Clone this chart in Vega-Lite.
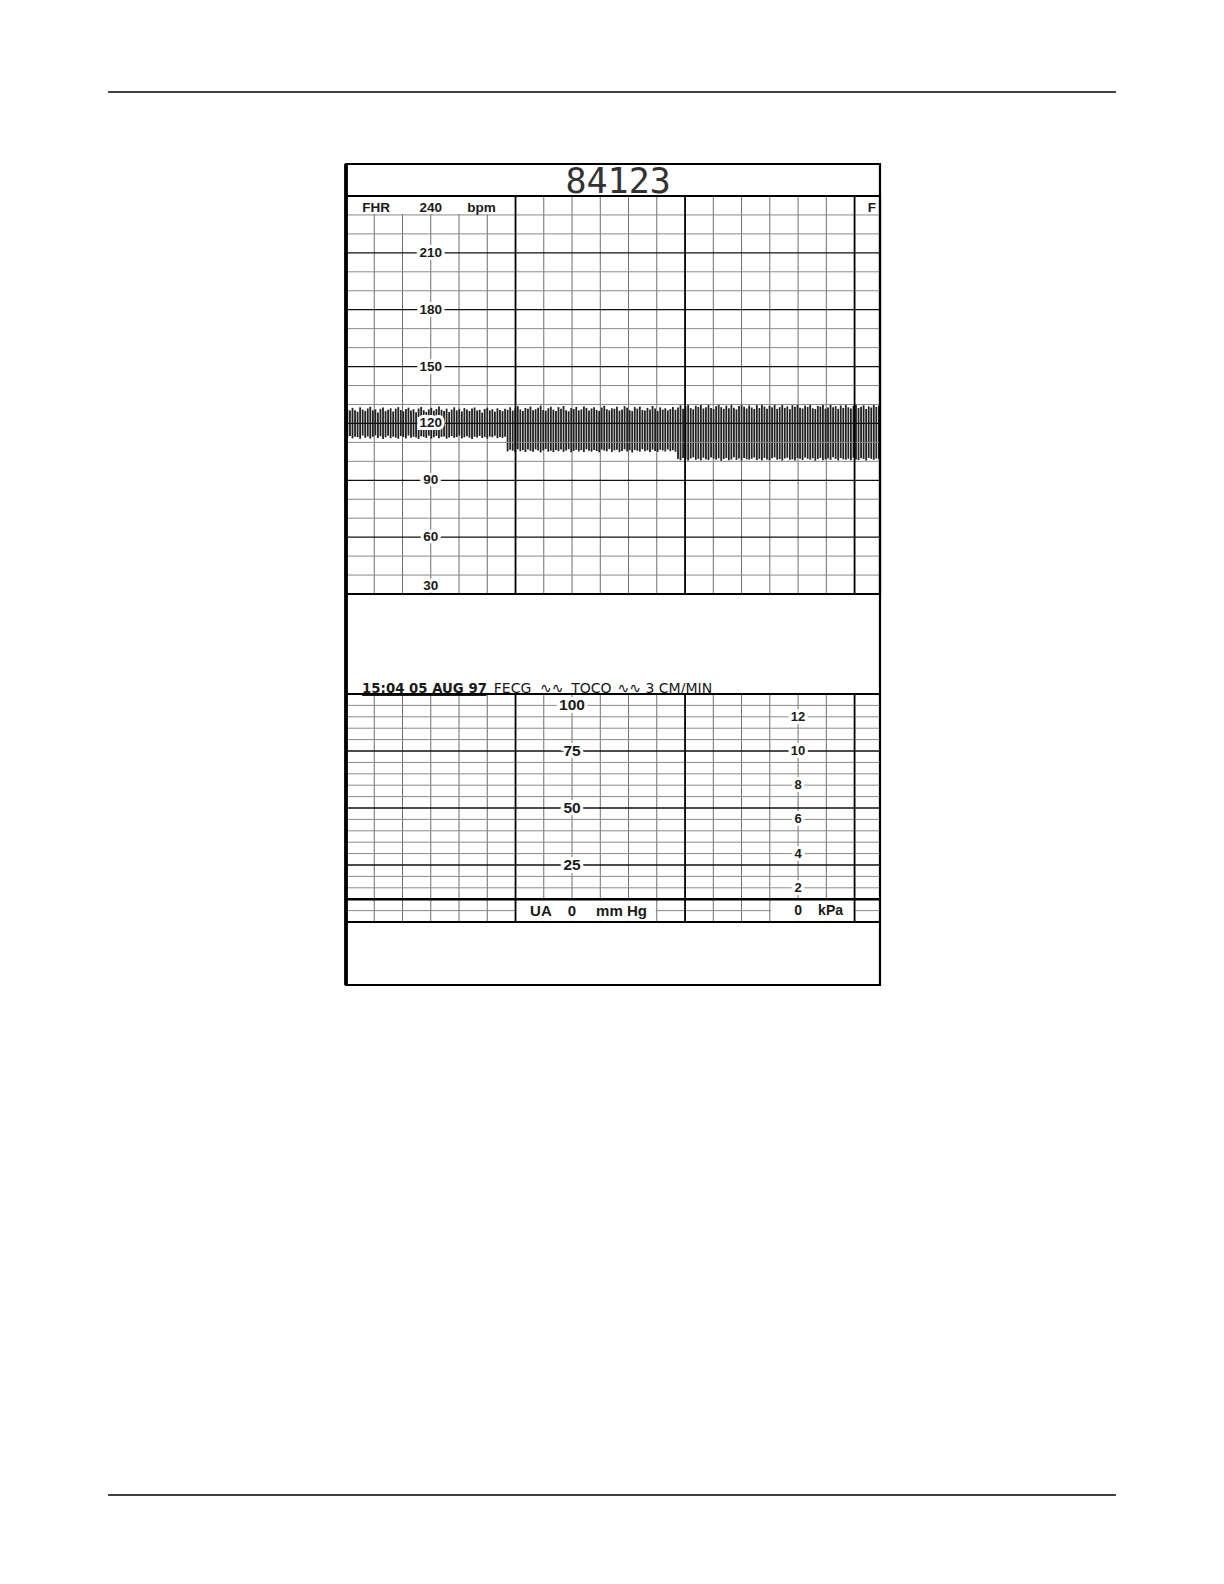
{
"$schema":"https://vega.github.io/schema/vega-lite/v6.json",
"width":1224,"height":1584,"padding":0,"autosize":{"type":"none"},
"background":"#ffffff",
"config":{"view":{"stroke":null},"text":{"font":"Liberation Sans"}},
"resolve":{"scale":{"x":"independent","y":"independent"}},
"datasets":{
"vl":[{"t":1},{"t":2},{"t":3},{"t":4},{"t":5},{"t":6},{"t":7},{"t":8},{"t":9},{"t":10},{"t":11},{"t":12},{"t":13},{"t":14},{"t":15},{"t":16},{"t":17},{"t":18}],
"fh":[{"v":40},{"v":50},{"v":60},{"v":70},{"v":80},{"v":90},{"v":100},{"v":110},{"v":120},{"v":130},{"v":140},{"v":150},{"v":160},{"v":170},{"v":180},{"v":190},{"v":200},{"v":210},{"v":220},{"v":230}],
"uh":[{"v":5},{"v":10},{"v":15},{"v":20},{"v":25},{"v":30},{"v":35},{"v":40},{"v":45},{"v":50},{"v":55},{"v":60},{"v":65},{"v":70},{"v":75},{"v":80},{"v":85},{"v":90},{"v":95}],
"fl":[{"txt":"210","v":210},{"txt":"180","v":180},{"txt":"150","v":150},{"txt":"120","v":120},{"txt":"90","v":90},{"txt":"60","v":60}],
"ul":[{"txt":"75","v":75},{"txt":"50","v":50},{"txt":"25","v":25}],
"kl":[{"txt":"12","kpa":12},{"txt":"10","kpa":10},{"txt":"8","kpa":8},{"txt":"6","kpa":6},{"txt":"4","kpa":4},{"txt":"2","kpa":2}],
"trace":[
{"t":0.05,"lo":112.6,"hi":127.5},{"t":0.14,"lo":113.4,"hi":126.8},{"t":0.23,"lo":112.1,"hi":128.2},{"t":0.32,"lo":113.0,"hi":127.0},{"t":0.41,"lo":112.8,"hi":126.2},{"t":0.50,"lo":111.9,"hi":128.5},{"t":0.59,"lo":113.6,"hi":127.3},{"t":0.68,"lo":112.4,"hi":126.6},{"t":0.77,"lo":113.1,"hi":127.9},{"t":0.86,"lo":112.0,"hi":128.8},
{"t":0.95,"lo":112.9,"hi":126.9},{"t":1.04,"lo":113.7,"hi":127.4},{"t":1.13,"lo":112.3,"hi":125.8},{"t":1.22,"lo":113.2,"hi":127.7},{"t":1.31,"lo":111.8,"hi":128.4},{"t":1.40,"lo":112.7,"hi":126.5},{"t":1.49,"lo":113.5,"hi":127.2},{"t":1.58,"lo":112.2,"hi":128.0},{"t":1.67,"lo":113.0,"hi":126.3},{"t":1.76,"lo":112.5,"hi":127.8},
{"t":1.85,"lo":111.9,"hi":128.6},{"t":1.94,"lo":113.3,"hi":127.1},{"t":2.03,"lo":112.8,"hi":126.4},{"t":2.12,"lo":112.1,"hi":127.6},{"t":2.21,"lo":113.6,"hi":128.3},{"t":2.30,"lo":112.4,"hi":126.8},{"t":2.39,"lo":113.0,"hi":127.5},{"t":2.48,"lo":112.6,"hi":125.9},{"t":2.57,"lo":111.8,"hi":127.9},{"t":2.66,"lo":113.2,"hi":128.7},
{"t":2.75,"lo":112.9,"hi":127.0},{"t":2.84,"lo":112.3,"hi":126.1},{"t":2.93,"lo":113.5,"hi":127.4},{"t":3.02,"lo":112.0,"hi":128.2},{"t":3.11,"lo":112.7,"hi":126.7},{"t":3.20,"lo":113.4,"hi":127.6},{"t":3.29,"lo":112.2,"hi":128.9},{"t":3.38,"lo":112.9,"hi":127.2},{"t":3.47,"lo":113.1,"hi":126.5},{"t":3.56,"lo":111.9,"hi":127.8},
{"t":3.65,"lo":112.6,"hi":126.0},{"t":3.74,"lo":113.3,"hi":127.3},{"t":3.83,"lo":112.4,"hi":128.5},{"t":3.92,"lo":112.8,"hi":126.9},{"t":4.01,"lo":113.6,"hi":127.7},{"t":4.10,"lo":112.1,"hi":126.3},{"t":4.19,"lo":112.7,"hi":128.1},{"t":4.28,"lo":113.2,"hi":127.4},{"t":4.37,"lo":112.5,"hi":126.6},{"t":4.46,"lo":111.8,"hi":127.9},
{"t":4.55,"lo":113.0,"hi":128.4},{"t":4.64,"lo":112.6,"hi":126.8},{"t":4.73,"lo":113.4,"hi":127.2},{"t":4.82,"lo":112.3,"hi":125.7},{"t":4.91,"lo":112.9,"hi":127.6},{"t":5.00,"lo":112.0,"hi":128.3},{"t":5.09,"lo":113.1,"hi":126.9},{"t":5.18,"lo":112.7,"hi":127.5},{"t":5.27,"lo":113.5,"hi":126.2},{"t":5.36,"lo":112.2,"hi":128.0},
{"t":5.45,"lo":112.8,"hi":127.1},{"t":5.54,"lo":112.4,"hi":126.5},{"t":5.63,"lo":113.0,"hi":127.7},
{"t":5.72,"lo":105.2,"hi":127.2},{"t":5.81,"lo":106.1,"hi":128.5},{"t":5.90,"lo":105.6,"hi":126.8},{"t":5.99,"lo":104.8,"hi":127.9},{"t":6.08,"lo":106.4,"hi":129.1},{"t":6.17,"lo":105.3,"hi":127.4},{"t":6.26,"lo":105.9,"hi":126.6},{"t":6.35,"lo":104.9,"hi":128.2},{"t":6.44,"lo":106.2,"hi":127.7},{"t":6.53,"lo":105.5,"hi":128.9},
{"t":6.62,"lo":105.0,"hi":126.9},{"t":6.71,"lo":106.3,"hi":127.5},{"t":6.80,"lo":105.7,"hi":128.3},{"t":6.89,"lo":104.7,"hi":129.4},{"t":6.98,"lo":105.8,"hi":127.1},{"t":7.07,"lo":106.5,"hi":126.7},{"t":7.16,"lo":105.1,"hi":128.0},{"t":7.25,"lo":105.6,"hi":128.8},{"t":7.34,"lo":104.9,"hi":127.3},{"t":7.43,"lo":106.0,"hi":126.5},
{"t":7.52,"lo":105.4,"hi":128.6},{"t":7.61,"lo":106.2,"hi":127.8},{"t":7.70,"lo":105.0,"hi":129.2},{"t":7.79,"lo":105.7,"hi":127.0},{"t":7.88,"lo":106.4,"hi":126.4},{"t":7.97,"lo":104.8,"hi":128.1},{"t":8.06,"lo":105.5,"hi":127.6},{"t":8.15,"lo":106.1,"hi":128.7},{"t":8.24,"lo":105.2,"hi":126.9},{"t":8.33,"lo":105.9,"hi":127.4},
{"t":8.42,"lo":104.9,"hi":129.0},{"t":8.51,"lo":106.3,"hi":128.2},{"t":8.60,"lo":105.6,"hi":126.8},{"t":8.69,"lo":105.1,"hi":127.9},{"t":8.78,"lo":106.0,"hi":128.5},{"t":8.87,"lo":105.4,"hi":127.2},{"t":8.96,"lo":104.8,"hi":126.6},{"t":9.05,"lo":106.2,"hi":128.4},{"t":9.14,"lo":105.7,"hi":129.3},{"t":9.23,"lo":105.3,"hi":127.5},
{"t":9.32,"lo":106.5,"hi":126.9},{"t":9.41,"lo":105.0,"hi":128.0},{"t":9.50,"lo":105.8,"hi":127.7},{"t":9.59,"lo":106.1,"hi":128.8},{"t":9.68,"lo":104.9,"hi":126.7},{"t":9.77,"lo":105.5,"hi":127.3},{"t":9.86,"lo":106.3,"hi":129.1},{"t":9.95,"lo":105.2,"hi":128.3},{"t":10.04,"lo":105.9,"hi":127.0},{"t":10.13,"lo":104.7,"hi":126.5},
{"t":10.22,"lo":106.0,"hi":128.6},{"t":10.31,"lo":105.6,"hi":127.8},{"t":10.40,"lo":105.1,"hi":128.9},{"t":10.49,"lo":106.4,"hi":127.1},{"t":10.58,"lo":105.3,"hi":126.8},{"t":10.67,"lo":105.8,"hi":128.2},{"t":10.76,"lo":104.9,"hi":127.4},{"t":10.85,"lo":106.2,"hi":129.2},{"t":10.94,"lo":105.5,"hi":127.9},{"t":11.03,"lo":105.0,"hi":126.6},
{"t":11.12,"lo":106.1,"hi":128.5},{"t":11.21,"lo":105.7,"hi":127.3},{"t":11.30,"lo":105.2,"hi":128.0},{"t":11.39,"lo":106.3,"hi":126.9},{"t":11.48,"lo":105.4,"hi":127.6},{"t":11.57,"lo":105.9,"hi":128.7},{"t":11.66,"lo":105.1,"hi":127.2},
{"t":11.75,"lo":101.2,"hi":128.4},{"t":11.84,"lo":100.6,"hi":129.6},{"t":11.93,"lo":101.8,"hi":127.8},{"t":12.02,"lo":101.0,"hi":128.9},{"t":12.11,"lo":100.4,"hi":130.2},{"t":12.20,"lo":101.5,"hi":128.1},{"t":12.29,"lo":102.1,"hi":127.5},{"t":12.38,"lo":100.8,"hi":129.3},{"t":12.47,"lo":101.3,"hi":128.7},{"t":12.56,"lo":100.5,"hi":130.0},
{"t":12.65,"lo":101.9,"hi":127.9},{"t":12.74,"lo":101.1,"hi":128.5},{"t":12.83,"lo":100.7,"hi":129.8},{"t":12.92,"lo":102.0,"hi":128.2},{"t":13.01,"lo":101.4,"hi":127.6},{"t":13.10,"lo":100.9,"hi":129.1},{"t":13.19,"lo":101.6,"hi":130.3},{"t":13.28,"lo":100.3,"hi":128.6},{"t":13.37,"lo":101.2,"hi":127.7},{"t":13.46,"lo":101.8,"hi":129.4},
{"t":13.55,"lo":100.6,"hi":128.0},{"t":13.64,"lo":101.0,"hi":129.9},{"t":13.73,"lo":102.2,"hi":128.3},{"t":13.82,"lo":100.8,"hi":127.4},{"t":13.91,"lo":101.5,"hi":129.2},{"t":14.00,"lo":100.4,"hi":130.1},{"t":14.09,"lo":101.7,"hi":128.8},{"t":14.18,"lo":101.1,"hi":127.9},{"t":14.27,"lo":100.9,"hi":129.5},{"t":14.36,"lo":101.4,"hi":128.4},
{"t":14.45,"lo":102.0,"hi":127.6},{"t":14.54,"lo":100.7,"hi":129.7},{"t":14.63,"lo":101.3,"hi":128.1},{"t":14.72,"lo":100.5,"hi":130.0},{"t":14.81,"lo":101.8,"hi":128.9},{"t":14.90,"lo":101.0,"hi":127.8},{"t":14.99,"lo":100.6,"hi":129.3},{"t":15.08,"lo":101.6,"hi":128.5},{"t":15.17,"lo":102.1,"hi":129.9},{"t":15.26,"lo":100.9,"hi":127.7},
{"t":15.35,"lo":101.2,"hi":128.6},{"t":15.44,"lo":100.4,"hi":130.2},{"t":15.53,"lo":101.5,"hi":128.2},{"t":15.62,"lo":101.9,"hi":129.0},{"t":15.71,"lo":100.8,"hi":127.5},{"t":15.80,"lo":101.1,"hi":129.6},{"t":15.89,"lo":100.5,"hi":128.8},{"t":15.98,"lo":101.7,"hi":130.1},{"t":16.07,"lo":101.3,"hi":128.3},{"t":16.16,"lo":100.7,"hi":127.9},
{"t":16.25,"lo":102.0,"hi":129.4},{"t":16.34,"lo":101.4,"hi":128.7},{"t":16.43,"lo":100.9,"hi":130.0},{"t":16.52,"lo":101.6,"hi":128.0},{"t":16.61,"lo":100.3,"hi":127.6},{"t":16.70,"lo":101.2,"hi":129.2},{"t":16.79,"lo":101.8,"hi":128.9},{"t":16.88,"lo":100.6,"hi":129.8},{"t":16.97,"lo":101.0,"hi":127.8},{"t":17.06,"lo":101.5,"hi":128.4},
{"t":17.15,"lo":100.8,"hi":130.3},{"t":17.24,"lo":102.1,"hi":128.6},{"t":17.33,"lo":101.3,"hi":129.1},{"t":17.42,"lo":100.5,"hi":127.7},{"t":17.51,"lo":101.7,"hi":129.5},{"t":17.60,"lo":101.1,"hi":128.2},{"t":17.69,"lo":100.9,"hi":129.9},{"t":17.78,"lo":101.4,"hi":128.5},{"t":17.87,"lo":100.6,"hi":127.9},{"t":17.96,"lo":101.9,"hi":129.3},
{"t":18.05,"lo":101.0,"hi":130.1},{"t":18.14,"lo":100.7,"hi":128.1},{"t":18.23,"lo":101.6,"hi":128.8},{"t":18.32,"lo":101.2,"hi":129.6},{"t":18.41,"lo":100.4,"hi":127.6},{"t":18.50,"lo":101.8,"hi":129.0},{"t":18.59,"lo":101.3,"hi":128.4},{"t":18.68,"lo":100.8,"hi":130.2},{"t":18.77,"lo":101.5,"hi":128.7},{"t":18.86,"lo":101.1,"hi":129.4}
]
},
"layer":[
{"data":{"values":[{"rule":"page top"}]},"mark":{"type":"rule","color":"#000","strokeWidth":1.5},
 "encoding":{"x":{"datum":-8.42,"type":"quantitative","scale":{"domain":[0,18.9],"range":[346,880],"nice":false,"zero":false},"axis":null},"x2":{"datum":27.25},
 "y":{"datum":-1.289,"type":"quantitative","scale":{"domain":[0,14.7],"range":[164,985],"nice":false,"zero":false},"axis":null}}},
{"data":{"values":[{"rule":"page bottom"}]},"mark":{"type":"rule","color":"#000","strokeWidth":1.5},
 "encoding":{"x":{"datum":-8.42,"type":"quantitative","scale":{"domain":[0,18.9],"range":[346,880],"nice":false,"zero":false},"axis":null},"x2":{"datum":27.25},
 "y":{"datum":23.83,"type":"quantitative","scale":{"domain":[0,14.7],"range":[164,985],"nice":false,"zero":false},"axis":null}}},

{"data":{"name":"vl"},"transform":[{"filter":"datum.t % 6 !== 0"}],"mark":{"type":"rule","color":"#6e6e6e","strokeWidth":1},
 "encoding":{"x":{"field":"t","type":"quantitative","scale":{"domain":[0,18.9],"range":[346,880],"nice":false,"zero":false},"axis":null},
 "y":{"datum":30,"type":"quantitative","scale":{"domain":[30,240],"range":[594,196],"nice":false,"zero":false},"axis":null},"y2":{"datum":240}}},
{"data":{"name":"vl"},"transform":[{"filter":"datum.t % 6 !== 0"}],"mark":{"type":"rule","color":"#6e6e6e","strokeWidth":1},
 "encoding":{"x":{"field":"t","type":"quantitative","scale":{"domain":[0,18.9],"range":[346,880],"nice":false,"zero":false},"axis":null},
 "y":{"datum":0,"type":"quantitative","scale":{"domain":[0,100],"range":[922,694],"nice":false,"zero":false},"axis":null},"y2":{"datum":100}}},

{"data":{"name":"trace"},"mark":{"type":"rule","color":"#222222","strokeWidth":1.8},
 "encoding":{"x":{"field":"t","type":"quantitative","scale":{"domain":[0,18.9],"range":[346,880],"nice":false,"zero":false},"axis":null},
 "y":{"field":"lo","type":"quantitative","scale":{"domain":[30,240],"range":[594,196],"nice":false,"zero":false},"axis":null},"y2":{"field":"hi"}}},

{"data":{"name":"fh"},"transform":[{"filter":"datum.v % 30 !== 0"}],"mark":{"type":"rule","color":"#8a8a8a","strokeWidth":1},
 "encoding":{"x":{"datum":0,"type":"quantitative","scale":{"domain":[0,18.9],"range":[346,880],"nice":false,"zero":false},"axis":null},"x2":{"datum":18.9},
 "y":{"field":"v","type":"quantitative","scale":{"domain":[30,240],"range":[594,196],"nice":false,"zero":false},"axis":null}}},
{"data":{"name":"uh"},"transform":[{"filter":"datum.v % 25 !== 0 && datum.v !== 10"}],"mark":{"type":"rule","color":"#8a8a8a","strokeWidth":1},
 "encoding":{"x":{"datum":0,"type":"quantitative","scale":{"domain":[0,18.9],"range":[346,880],"nice":false,"zero":false},"axis":null},"x2":{"datum":18.9},
 "y":{"field":"v","type":"quantitative","scale":{"domain":[0,100],"range":[922,694],"nice":false,"zero":false},"axis":null}}},

{"data":{"values":[{"box":"FHR header"}]},"mark":{"type":"rect","color":"#ffffff"},
 "encoding":{"x":{"datum":0.06,"type":"quantitative","scale":{"domain":[0,18.9],"range":[346,880],"nice":false,"zero":false},"axis":null},"x2":{"datum":5.95},
 "y":{"datum":230.5,"type":"quantitative","scale":{"domain":[30,240],"range":[594,196],"nice":false,"zero":false},"axis":null},"y2":{"datum":239.5}}},
{"data":{"values":[{"box":"FHR header 2"}]},"mark":{"type":"rect","color":"#ffffff"},
 "encoding":{"x":{"datum":18.05,"type":"quantitative","scale":{"domain":[0,18.9],"range":[346,880],"nice":false,"zero":false},"axis":null},"x2":{"datum":18.86},
 "y":{"datum":230.5,"type":"quantitative","scale":{"domain":[30,240],"range":[594,196],"nice":false,"zero":false},"axis":null},"y2":{"datum":239.5}}},
{"data":{"values":[{"box":"UA footer"}]},"mark":{"type":"rect","color":"#ffffff"},
 "encoding":{"x":{"datum":6.05,"type":"quantitative","scale":{"domain":[0,18.9],"range":[346,880],"nice":false,"zero":false},"axis":null},"x2":{"datum":10.96},
 "y":{"datum":0.6,"type":"quantitative","scale":{"domain":[0,100],"range":[922,694],"nice":false,"zero":false},"axis":null},"y2":{"datum":9.4}}},
{"data":{"values":[{"box":"kPa footer"}]},"mark":{"type":"rect","color":"#ffffff"},
 "encoding":{"x":{"datum":15.04,"type":"quantitative","scale":{"domain":[0,18.9],"range":[346,880],"nice":false,"zero":false},"axis":null},"x2":{"datum":17.96},
 "y":{"datum":0.6,"type":"quantitative","scale":{"domain":[0,100],"range":[922,694],"nice":false,"zero":false},"axis":null},"y2":{"datum":9.4}}},

{"data":{"name":"vl"},"transform":[{"filter":"datum.t % 6 === 0"}],"mark":{"type":"rule","color":"#000","strokeWidth":1.8},
 "encoding":{"x":{"field":"t","type":"quantitative","scale":{"domain":[0,18.9],"range":[346,880],"nice":false,"zero":false},"axis":null},
 "y":{"datum":30,"type":"quantitative","scale":{"domain":[30,240],"range":[594,196],"nice":false,"zero":false},"axis":null},"y2":{"datum":240}}},
{"data":{"name":"vl"},"transform":[{"filter":"datum.t % 6 === 0"}],"mark":{"type":"rule","color":"#000","strokeWidth":1.8},
 "encoding":{"x":{"field":"t","type":"quantitative","scale":{"domain":[0,18.9],"range":[346,880],"nice":false,"zero":false},"axis":null},
 "y":{"datum":0,"type":"quantitative","scale":{"domain":[0,100],"range":[922,694],"nice":false,"zero":false},"axis":null},"y2":{"datum":100}}},
{"data":{"name":"fh"},"transform":[{"filter":"datum.v % 30 === 0"}],"mark":{"type":"rule","color":"#111","strokeWidth":1.3},
 "encoding":{"x":{"datum":0,"type":"quantitative","scale":{"domain":[0,18.9],"range":[346,880],"nice":false,"zero":false},"axis":null},"x2":{"datum":18.9},
 "y":{"field":"v","type":"quantitative","scale":{"domain":[30,240],"range":[594,196],"nice":false,"zero":false},"axis":null}}},
{"data":{"name":"uh"},"transform":[{"filter":"datum.v % 25 === 0"}],"mark":{"type":"rule","color":"#111","strokeWidth":1.3},
 "encoding":{"x":{"datum":0,"type":"quantitative","scale":{"domain":[0,18.9],"range":[346,880],"nice":false,"zero":false},"axis":null},"x2":{"datum":18.9},
 "y":{"field":"v","type":"quantitative","scale":{"domain":[0,100],"range":[922,694],"nice":false,"zero":false},"axis":null}}},
{"data":{"name":"uh"},"transform":[{"filter":"datum.v === 10"}],"mark":{"type":"rule","color":"#000","strokeWidth":2.6},
 "encoding":{"x":{"datum":0,"type":"quantitative","scale":{"domain":[0,18.9],"range":[346,880],"nice":false,"zero":false},"axis":null},"x2":{"datum":18.9},
 "y":{"field":"v","type":"quantitative","scale":{"domain":[0,100],"range":[922,694],"nice":false,"zero":false},"axis":null}}},

{"data":{"values":[{"panel":"FHR"}]},"mark":{"type":"rect","fillOpacity":0,"stroke":"#000","strokeWidth":2.2},
 "encoding":{"x":{"datum":0,"type":"quantitative","scale":{"domain":[0,18.9],"range":[346,880],"nice":false,"zero":false},"axis":null},"x2":{"datum":18.9},
 "y":{"datum":30,"type":"quantitative","scale":{"domain":[30,240],"range":[594,196],"nice":false,"zero":false},"axis":null},"y2":{"datum":240}}},
{"data":{"values":[{"panel":"UA"}]},"mark":{"type":"rect","fillOpacity":0,"stroke":"#000","strokeWidth":2},
 "encoding":{"x":{"datum":0,"type":"quantitative","scale":{"domain":[0,18.9],"range":[346,880],"nice":false,"zero":false},"axis":null},"x2":{"datum":18.9},
 "y":{"datum":0,"type":"quantitative","scale":{"domain":[0,100],"range":[922,694],"nice":false,"zero":false},"axis":null},"y2":{"datum":100}}},
{"data":{"values":[{"panel":"strip"}]},"mark":{"type":"rect","fillOpacity":0,"stroke":"#000","strokeWidth":2.2},
 "encoding":{"x":{"datum":0,"type":"quantitative","scale":{"domain":[0,18.9],"range":[346,880],"nice":false,"zero":false},"axis":null},"x2":{"datum":18.9},
 "y":{"datum":0,"type":"quantitative","scale":{"domain":[0,14.7],"range":[164,985],"nice":false,"zero":false},"axis":null},"y2":{"datum":14.7}}},
{"data":{"values":[{"edge":"left"}]},"mark":{"type":"rule","color":"#000","strokeWidth":3.8},
 "encoding":{"x":{"datum":0,"type":"quantitative","scale":{"domain":[0,18.9],"range":[346,880],"nice":false,"zero":false},"axis":null},
 "y":{"datum":0,"type":"quantitative","scale":{"domain":[0,14.7],"range":[164,985],"nice":false,"zero":false},"axis":null},"y2":{"datum":14.7}}},

{"data":{"values":[{"txt":"84123"}]},"mark":{"type":"text","font":"DejaVu Sans Mono","fontSize":35,"color":"#333333","align":"center","baseline":"alphabetic"},
 "encoding":{"x":{"datum":9.63,"type":"quantitative","scale":{"domain":[0,18.9],"range":[346,880],"nice":false,"zero":false},"axis":null},
 "y":{"datum":0.528,"type":"quantitative","scale":{"domain":[0,14.7],"range":[164,985],"nice":false,"zero":false},"axis":null},"text":{"field":"txt","type":"nominal"}}},
{"data":{"values":[{"txt":"15:04 05 AUG 97"}]},"mark":{"type":"text","font":"DejaVu Sans","fontWeight":"bold","fontSize":13.3,"color":"#1a1a1a","align":"left","baseline":"alphabetic"},
 "encoding":{"x":{"datum":0.57,"type":"quantitative","scale":{"domain":[0,18.9],"range":[346,880],"nice":false,"zero":false},"axis":null},
 "y":{"datum":9.47,"type":"quantitative","scale":{"domain":[0,14.7],"range":[164,985],"nice":false,"zero":false},"axis":null},"text":{"field":"txt","type":"nominal"}}},
{"data":{"values":[{"line":"underline"}]},"mark":{"type":"rule","color":"#1a1a1a","strokeWidth":1.3},
 "encoding":{"x":{"datum":0.57,"type":"quantitative","scale":{"domain":[0,18.9],"range":[346,880],"nice":false,"zero":false},"axis":null},"x2":{"datum":4.97},
 "y":{"datum":9.515,"type":"quantitative","scale":{"domain":[0,14.7],"range":[164,985],"nice":false,"zero":false},"axis":null}}},
{"data":{"values":[{"txt":"FECG"}]},"mark":{"type":"text","font":"DejaVu Sans","fontSize":14,"color":"#1a1a1a","align":"left","baseline":"alphabetic"},
 "encoding":{"x":{"datum":5.23,"type":"quantitative","scale":{"domain":[0,18.9],"range":[346,880],"nice":false,"zero":false},"axis":null},
 "y":{"datum":9.47,"type":"quantitative","scale":{"domain":[0,14.7],"range":[164,985],"nice":false,"zero":false},"axis":null},"text":{"field":"txt","type":"nominal"}}},
{"data":{"values":[{"txt":"∿∿"}]},"mark":{"type":"text","font":"DejaVu Sans","fontSize":14,"color":"#1a1a1a","align":"left","baseline":"alphabetic"},
 "encoding":{"x":{"datum":6.87,"type":"quantitative","scale":{"domain":[0,18.9],"range":[346,880],"nice":false,"zero":false},"axis":null},
 "y":{"datum":9.47,"type":"quantitative","scale":{"domain":[0,14.7],"range":[164,985],"nice":false,"zero":false},"axis":null},"text":{"field":"txt","type":"nominal"}}},
{"data":{"values":[{"txt":"TOCO"}]},"mark":{"type":"text","font":"DejaVu Sans","fontSize":14,"color":"#1a1a1a","align":"left","baseline":"alphabetic"},
 "encoding":{"x":{"datum":7.97,"type":"quantitative","scale":{"domain":[0,18.9],"range":[346,880],"nice":false,"zero":false},"axis":null},
 "y":{"datum":9.47,"type":"quantitative","scale":{"domain":[0,14.7],"range":[164,985],"nice":false,"zero":false},"axis":null},"text":{"field":"txt","type":"nominal"}}},
{"data":{"values":[{"txt":"∿∿"}]},"mark":{"type":"text","font":"DejaVu Sans","fontSize":14,"color":"#1a1a1a","align":"left","baseline":"alphabetic"},
 "encoding":{"x":{"datum":9.61,"type":"quantitative","scale":{"domain":[0,18.9],"range":[346,880],"nice":false,"zero":false},"axis":null},
 "y":{"datum":9.47,"type":"quantitative","scale":{"domain":[0,14.7],"range":[164,985],"nice":false,"zero":false},"axis":null},"text":{"field":"txt","type":"nominal"}}},
{"data":{"values":[{"txt":"3 CM/MIN"}]},"mark":{"type":"text","font":"DejaVu Sans","fontSize":14,"color":"#1a1a1a","align":"left","baseline":"alphabetic"},
 "encoding":{"x":{"datum":10.6,"type":"quantitative","scale":{"domain":[0,18.9],"range":[346,880],"nice":false,"zero":false},"axis":null},
 "y":{"datum":9.47,"type":"quantitative","scale":{"domain":[0,14.7],"range":[164,985],"nice":false,"zero":false},"axis":null},"text":{"field":"txt","type":"nominal"}}},

{"data":{"name":"fl"},"mark":{"type":"text","fontSize":13.5,"fontWeight":"bold","color":"#fff","stroke":"#fff","strokeWidth":6,"align":"center","baseline":"middle"},
 "encoding":{"x":{"datum":3,"type":"quantitative","scale":{"domain":[0,18.9],"range":[346,880],"nice":false,"zero":false},"axis":null},
 "y":{"field":"v","type":"quantitative","scale":{"domain":[30,240],"range":[594,196],"nice":false,"zero":false},"axis":null},"text":{"field":"txt","type":"nominal"}}},
{"data":{"name":"fl"},"mark":{"type":"text","fontSize":13.5,"fontWeight":"bold","color":"#1a1a1a","align":"center","baseline":"middle"},
 "encoding":{"x":{"datum":3,"type":"quantitative","scale":{"domain":[0,18.9],"range":[346,880],"nice":false,"zero":false},"axis":null},
 "y":{"field":"v","type":"quantitative","scale":{"domain":[30,240],"range":[594,196],"nice":false,"zero":false},"axis":null},"text":{"field":"txt","type":"nominal"}}},
{"data":{"values":[{"txt":"30"}]},"mark":{"type":"text","fontSize":13.5,"fontWeight":"bold","color":"#fff","stroke":"#fff","strokeWidth":6,"align":"center","baseline":"middle"},
 "encoding":{"x":{"datum":3,"type":"quantitative","scale":{"domain":[0,18.9],"range":[346,880],"nice":false,"zero":false},"axis":null},
 "y":{"datum":34.4,"type":"quantitative","scale":{"domain":[30,240],"range":[594,196],"nice":false,"zero":false},"axis":null},"text":{"field":"txt","type":"nominal"}}},
{"data":{"values":[{"txt":"30"}]},"mark":{"type":"text","fontSize":13.5,"fontWeight":"bold","color":"#1a1a1a","align":"center","baseline":"middle"},
 "encoding":{"x":{"datum":3,"type":"quantitative","scale":{"domain":[0,18.9],"range":[346,880],"nice":false,"zero":false},"axis":null},
 "y":{"datum":34.4,"type":"quantitative","scale":{"domain":[30,240],"range":[594,196],"nice":false,"zero":false},"axis":null},"text":{"field":"txt","type":"nominal"}}},
{"data":{"values":[{"txt":"FHR"}]},"mark":{"type":"text","fontSize":13.5,"fontWeight":"bold","color":"#1a1a1a","align":"center","baseline":"middle"},
 "encoding":{"x":{"datum":1.07,"type":"quantitative","scale":{"domain":[0,18.9],"range":[346,880],"nice":false,"zero":false},"axis":null},
 "y":{"datum":233.67,"type":"quantitative","scale":{"domain":[30,240],"range":[594,196],"nice":false,"zero":false},"axis":null},"text":{"field":"txt","type":"nominal"}}},
{"data":{"values":[{"txt":"240"}]},"mark":{"type":"text","fontSize":13.5,"fontWeight":"bold","color":"#1a1a1a","align":"center","baseline":"middle"},
 "encoding":{"x":{"datum":3,"type":"quantitative","scale":{"domain":[0,18.9],"range":[346,880],"nice":false,"zero":false},"axis":null},
 "y":{"datum":233.67,"type":"quantitative","scale":{"domain":[30,240],"range":[594,196],"nice":false,"zero":false},"axis":null},"text":{"field":"txt","type":"nominal"}}},
{"data":{"values":[{"txt":"bpm"}]},"mark":{"type":"text","fontSize":13.5,"fontWeight":"bold","color":"#1a1a1a","align":"center","baseline":"middle"},
 "encoding":{"x":{"datum":4.8,"type":"quantitative","scale":{"domain":[0,18.9],"range":[346,880],"nice":false,"zero":false},"axis":null},
 "y":{"datum":233.67,"type":"quantitative","scale":{"domain":[30,240],"range":[594,196],"nice":false,"zero":false},"axis":null},"text":{"field":"txt","type":"nominal"}}},
{"data":{"values":[{"txt":"F"}]},"mark":{"type":"text","fontSize":13.5,"fontWeight":"bold","color":"#1a1a1a","align":"left","baseline":"middle"},
 "encoding":{"x":{"datum":18.47,"type":"quantitative","scale":{"domain":[0,18.9],"range":[346,880],"nice":false,"zero":false},"axis":null},
 "y":{"datum":233.67,"type":"quantitative","scale":{"domain":[30,240],"range":[594,196],"nice":false,"zero":false},"axis":null},"text":{"field":"txt","type":"nominal"}}},

{"data":{"name":"ul"},"mark":{"type":"text","fontSize":15.5,"fontWeight":"bold","color":"#fff","stroke":"#fff","strokeWidth":6,"align":"center","baseline":"middle"},
 "encoding":{"x":{"datum":8,"type":"quantitative","scale":{"domain":[0,18.9],"range":[346,880],"nice":false,"zero":false},"axis":null},
 "y":{"field":"v","type":"quantitative","scale":{"domain":[0,100],"range":[922,694],"nice":false,"zero":false},"axis":null},"text":{"field":"txt","type":"nominal"}}},
{"data":{"name":"ul"},"mark":{"type":"text","fontSize":15.5,"fontWeight":"bold","color":"#1a1a1a","align":"center","baseline":"middle"},
 "encoding":{"x":{"datum":8,"type":"quantitative","scale":{"domain":[0,18.9],"range":[346,880],"nice":false,"zero":false},"axis":null},
 "y":{"field":"v","type":"quantitative","scale":{"domain":[0,100],"range":[922,694],"nice":false,"zero":false},"axis":null},"text":{"field":"txt","type":"nominal"}}},
{"data":{"values":[{"txt":"100"}]},"mark":{"type":"text","fontSize":15.5,"fontWeight":"bold","color":"#fff","stroke":"#fff","strokeWidth":6,"align":"center","baseline":"middle"},
 "encoding":{"x":{"datum":8,"type":"quantitative","scale":{"domain":[0,18.9],"range":[346,880],"nice":false,"zero":false},"axis":null},
 "y":{"datum":95,"type":"quantitative","scale":{"domain":[0,100],"range":[922,694],"nice":false,"zero":false},"axis":null},"text":{"field":"txt","type":"nominal"}}},
{"data":{"values":[{"txt":"100"}]},"mark":{"type":"text","fontSize":15.5,"fontWeight":"bold","color":"#1a1a1a","align":"center","baseline":"middle"},
 "encoding":{"x":{"datum":8,"type":"quantitative","scale":{"domain":[0,18.9],"range":[346,880],"nice":false,"zero":false},"axis":null},
 "y":{"datum":95,"type":"quantitative","scale":{"domain":[0,100],"range":[922,694],"nice":false,"zero":false},"axis":null},"text":{"field":"txt","type":"nominal"}}},
{"data":{"name":"kl"},"mark":{"type":"text","fontSize":13,"fontWeight":"bold","color":"#fff","stroke":"#fff","strokeWidth":6,"align":"center","baseline":"middle"},
 "encoding":{"x":{"datum":16,"type":"quantitative","scale":{"domain":[0,18.9],"range":[346,880],"nice":false,"zero":false},"axis":null},
 "y":{"field":"kpa","type":"quantitative","scale":{"domain":[0,13.3322],"range":[922,694],"nice":false,"zero":false},"axis":null},"text":{"field":"txt","type":"nominal"}}},
{"data":{"name":"kl"},"mark":{"type":"text","fontSize":13,"fontWeight":"bold","color":"#1a1a1a","align":"center","baseline":"middle"},
 "encoding":{"x":{"datum":16,"type":"quantitative","scale":{"domain":[0,18.9],"range":[346,880],"nice":false,"zero":false},"axis":null},
 "y":{"field":"kpa","type":"quantitative","scale":{"domain":[0,13.3322],"range":[922,694],"nice":false,"zero":false},"axis":null},"text":{"field":"txt","type":"nominal"}}},
{"data":{"values":[{"txt":"UA"}]},"mark":{"type":"text","fontSize":15,"fontWeight":"bold","color":"#1a1a1a","align":"center","baseline":"middle"},
 "encoding":{"x":{"datum":6.9,"type":"quantitative","scale":{"domain":[0,18.9],"range":[346,880],"nice":false,"zero":false},"axis":null},
 "y":{"datum":5,"type":"quantitative","scale":{"domain":[0,100],"range":[922,694],"nice":false,"zero":false},"axis":null},"text":{"field":"txt","type":"nominal"}}},
{"data":{"values":[{"txt":"0"}]},"mark":{"type":"text","fontSize":15,"fontWeight":"bold","color":"#1a1a1a","align":"center","baseline":"middle"},
 "encoding":{"x":{"datum":8,"type":"quantitative","scale":{"domain":[0,18.9],"range":[346,880],"nice":false,"zero":false},"axis":null},
 "y":{"datum":5,"type":"quantitative","scale":{"domain":[0,100],"range":[922,694],"nice":false,"zero":false},"axis":null},"text":{"field":"txt","type":"nominal"}}},
{"data":{"values":[{"txt":"mm Hg"}]},"mark":{"type":"text","fontSize":15,"fontWeight":"bold","color":"#1a1a1a","align":"center","baseline":"middle"},
 "encoding":{"x":{"datum":9.75,"type":"quantitative","scale":{"domain":[0,18.9],"range":[346,880],"nice":false,"zero":false},"axis":null},
 "y":{"datum":5,"type":"quantitative","scale":{"domain":[0,100],"range":[922,694],"nice":false,"zero":false},"axis":null},"text":{"field":"txt","type":"nominal"}}},
{"data":{"values":[{"txt":"0"}]},"mark":{"type":"text","fontSize":14,"fontWeight":"bold","color":"#1a1a1a","align":"center","baseline":"middle"},
 "encoding":{"x":{"datum":16,"type":"quantitative","scale":{"domain":[0,18.9],"range":[346,880],"nice":false,"zero":false},"axis":null},
 "y":{"datum":5,"type":"quantitative","scale":{"domain":[0,100],"range":[922,694],"nice":false,"zero":false},"axis":null},"text":{"field":"txt","type":"nominal"}}},
{"data":{"values":[{"txt":"kPa"}]},"mark":{"type":"text","fontSize":14,"fontWeight":"bold","color":"#1a1a1a","align":"center","baseline":"middle"},
 "encoding":{"x":{"datum":17.15,"type":"quantitative","scale":{"domain":[0,18.9],"range":[346,880],"nice":false,"zero":false},"axis":null},
 "y":{"datum":5,"type":"quantitative","scale":{"domain":[0,100],"range":[922,694],"nice":false,"zero":false},"axis":null},"text":{"field":"txt","type":"nominal"}}}
]
}
